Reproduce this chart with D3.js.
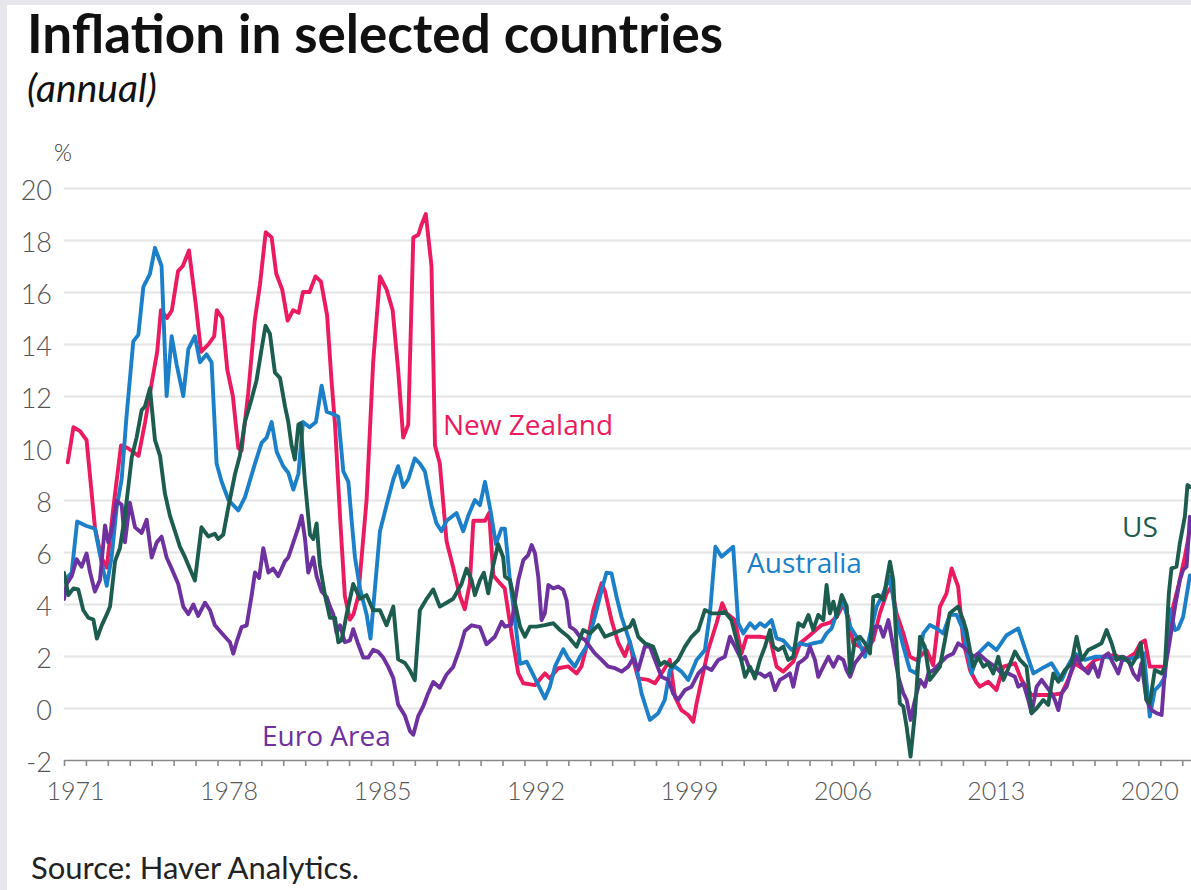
<!DOCTYPE html>
<html>
<head>
<meta charset="utf-8">
<style>
  body { margin: 0; background: #fff; }
  svg { display: block; }
  .grid line { stroke: #e4e4e4; stroke-width: 2; }
  .grid path { display: none; }
  .ylab text { font-family: Lato, sans-serif; font-weight: 300; font-size: 27px; fill: #555; }
  .xlab text { font-family: Lato, sans-serif; font-weight: 300; font-size: 25px; fill: #555; }
  .xaxis path, .xaxis line { stroke: #8a8a8a; stroke-width: 1.6; }
  .series { fill: none; stroke-width: 3.9; stroke-linejoin: round; stroke-linecap: round; }
  .label { font-family: "Open Sans", sans-serif; font-size: 28px; }
</style>
</head>
<body>
<svg width="1191" height="890"></svg>
<script src="https://cdnjs.cloudflare.com/ajax/libs/d3/7.8.5/d3.min.js"></script>
<script>

// values: [year, % annual]
var newZealand = [
  [1971.17, 9.45], [1971.43, 10.8], [1971.73, 10.65], [1972.03, 10.3], [1972.41, 6.95], [1972.7, 5.8],
  [1972.95, 5.4], [1973.25, 7.7], [1973.6, 10.1], [1973.9, 10.0], [1974.4, 9.7], [1974.7, 11.0],
  [1975.0, 12.5], [1975.25, 13.7], [1975.42, 15.3], [1975.7, 15.0], [1975.92, 15.3], [1976.2, 16.8],
  [1976.42, 17.0], [1976.7, 17.6], [1977.0, 15.6], [1977.25, 13.7], [1977.6, 14.0], [1977.85, 14.3],
  [1977.97, 15.3], [1978.22, 15.0], [1978.45, 13.0], [1978.7, 12.0], [1978.95, 10.0], [1979.1, 9.9],
  [1979.4, 12.1], [1979.7, 14.9], [1979.94, 16.3], [1980.2, 18.3], [1980.47, 18.1], [1980.68, 16.7],
  [1980.95, 16.1], [1981.2, 14.9], [1981.45, 15.3], [1981.7, 15.2], [1981.9, 16.0], [1982.2, 16.0],
  [1982.47, 16.6], [1982.72, 16.4], [1983.0, 15.1], [1983.2, 12.6], [1983.36, 10.9], [1983.6, 7.2],
  [1983.81, 4.3], [1984.04, 3.4], [1984.2, 3.6], [1984.42, 4.3], [1984.8, 8.0], [1985.1, 13.3],
  [1985.41, 16.6], [1985.71, 16.1], [1985.99, 15.3], [1986.24, 13.0], [1986.47, 10.4], [1986.7, 10.9],
  [1986.93, 18.1], [1987.16, 18.2], [1987.31, 18.6], [1987.5, 19.0], [1987.76, 17.0], [1987.92, 10.1],
  [1988.14, 9.4], [1988.45, 6.4], [1988.75, 5.4], [1989.06, 4.3], [1989.28, 3.8], [1989.51, 4.8],
  [1989.67, 7.2], [1989.97, 7.2], [1990.2, 7.2], [1990.39, 7.5], [1990.58, 5.1], [1990.88, 4.8],
  [1991.1, 4.6], [1991.41, 2.87], [1991.72, 1.33], [1991.95, 0.95], [1992.48, 0.88], [1992.93, 1.33],
  [1993.16, 1.14], [1993.54, 1.53], [1994.0, 1.6], [1994.38, 1.33], [1994.6, 1.6], [1994.83, 2.36],
  [1995.14, 3.77], [1995.52, 4.8], [1995.67, 4.5], [1995.97, 3.38], [1996.28, 2.5], [1996.58, 2.0],
  [1996.81, 2.55], [1996.96, 1.85], [1997.19, 1.14], [1997.65, 1.08], [1997.95, 0.95], [1998.25, 1.33],
  [1998.63, 1.85], [1998.86, 0.44], [1999.16, -0.08], [1999.47, -0.27], [1999.7, -0.53], [1999.85, 0.18],
  [2000.08, 1.08], [2000.38, 2.23], [2000.76, 3.26], [2001.02, 4.03], [2001.22, 3.64], [2001.6, 3.38],
  [2001.9, 2.1], [2002.13, 2.74], [2002.74, 2.74], [2003.2, 2.68], [2003.5, 1.59], [2003.8, 1.4],
  [2004.26, 1.78], [2004.57, 2.49], [2005.02, 2.8], [2005.55, 3.19], [2005.93, 3.28], [2006.24, 3.5],
  [2006.54, 4.0], [2006.77, 3.5], [2007.0, 2.49], [2007.3, 2.36], [2007.6, 2.23], [2007.9, 2.6],
  [2008.21, 3.64], [2008.52, 4.41], [2008.74, 4.67], [2008.97, 3.64], [2009.28, 2.87], [2009.58, 1.97],
  [2009.88, 1.85], [2010.34, 2.23], [2010.64, 1.65], [2010.95, 3.9], [2011.25, 4.41], [2011.48, 5.37],
  [2011.78, 4.67], [2012.01, 2.6], [2012.32, 1.46], [2012.6, 1.0], [2012.77, 0.82], [2013.15, 1.01],
  [2013.53, 0.69], [2013.84, 1.59], [2014.37, 1.72], [2014.67, 1.08], [2015.13, 0.5], [2015.59, 0.5],
  [2016.04, 0.5], [2016.5, 0.56], [2016.8, 1.08], [2017.1, 1.72], [2017.56, 1.46], [2018.02, 1.85],
  [2018.47, 1.97], [2018.93, 2.04], [2019.38, 1.85], [2019.84, 2.1], [2020.1, 2.5], [2020.3, 2.6],
  [2020.52, 1.59], [2020.9, 1.59], [2021.21, 1.59], [2021.51, 3.64], [2021.82, 4.67], [2022.12, 5.82],
  [2022.35, 6.85]
];

var australia = [
  [1971.0, 4.9], [1971.35, 5.2], [1971.6, 7.17], [1972.03, 7.0], [1972.41, 6.9], [1972.64, 5.9],
  [1972.95, 4.7], [1973.17, 5.8], [1973.4, 7.7], [1973.63, 8.8], [1973.86, 11.3], [1974.0, 12.6],
  [1974.16, 14.1], [1974.39, 14.35], [1974.62, 16.2], [1974.92, 16.7], [1975.15, 17.7], [1975.45, 17.0],
  [1975.68, 12.0], [1975.91, 14.3], [1976.14, 13.2], [1976.44, 12.0], [1976.67, 13.8], [1976.97, 14.3],
  [1977.2, 13.3], [1977.5, 13.6], [1977.73, 13.3], [1977.96, 9.4], [1978.19, 8.7], [1978.5, 8.0],
  [1978.95, 7.6], [1979.25, 8.1], [1979.71, 9.4], [1980.01, 10.2], [1980.24, 10.4], [1980.47, 11.0],
  [1980.7, 9.85], [1981.0, 9.3], [1981.23, 9.05], [1981.46, 8.4], [1981.69, 9.0], [1981.9, 11.0],
  [1982.2, 10.8], [1982.49, 11.0], [1982.75, 12.4], [1982.98, 11.4], [1983.28, 11.3], [1983.51, 11.2],
  [1983.74, 9.1], [1983.97, 8.7], [1984.12, 7.2], [1984.27, 5.8], [1984.5, 4.6], [1984.8, 3.6],
  [1984.98, 2.67], [1985.18, 4.6], [1985.41, 6.8], [1985.71, 7.8], [1986.02, 8.8], [1986.24, 9.3],
  [1986.47, 8.5], [1986.7, 8.8], [1987.0, 9.6], [1987.23, 9.4], [1987.46, 9.1], [1987.76, 7.8],
  [1987.99, 7.1], [1988.22, 6.8], [1988.45, 7.2], [1988.9, 7.5], [1989.21, 6.8], [1989.44, 7.4],
  [1989.74, 8.0], [1989.97, 7.8], [1990.2, 8.7], [1990.45, 7.6], [1990.7, 6.3], [1990.95, 6.9],
  [1991.11, 6.9], [1991.34, 4.9], [1991.57, 3.4], [1991.8, 1.7], [1992.1, 1.78], [1992.48, 1.14],
  [1992.93, 0.37], [1993.16, 0.82], [1993.39, 1.59], [1993.77, 2.26], [1994.0, 1.9], [1994.3, 1.59],
  [1994.53, 1.97], [1994.83, 2.36], [1995.21, 3.5], [1995.52, 4.54], [1995.74, 5.2], [1995.97, 5.18],
  [1996.2, 4.28], [1996.43, 3.5], [1996.73, 2.74], [1997.04, 1.85], [1997.34, 0.56], [1997.72, -0.46],
  [1998.1, -0.2], [1998.4, 0.31], [1998.63, 1.46], [1998.86, 1.59], [1999.16, 1.4], [1999.47, 1.08],
  [1999.85, 1.85], [2000.23, 2.23], [2000.46, 3.64], [2000.71, 6.2], [2000.99, 5.82], [2001.52, 6.2],
  [2001.75, 3.26], [2001.98, 2.87], [2002.29, 3.26], [2002.51, 3.06], [2002.74, 3.26], [2002.97, 3.13],
  [2003.27, 3.38], [2003.5, 2.68], [2003.8, 2.6], [2004.19, 2.23], [2004.57, 2.49], [2004.87, 2.42],
  [2005.17, 2.49], [2005.55, 2.55], [2005.78, 2.87], [2006.01, 3.06], [2006.24, 3.64], [2006.54, 4.09],
  [2006.85, 3.13], [2007.15, 2.74], [2007.53, 1.97], [2007.83, 3.06], [2008.06, 3.9], [2008.37, 4.41],
  [2008.67, 5.05], [2008.97, 3.38], [2009.28, 2.36], [2009.58, 1.46], [2009.88, 1.33], [2010.19, 2.87],
  [2010.49, 3.19], [2010.8, 3.06], [2011.1, 2.87], [2011.4, 3.58], [2011.71, 3.58], [2012.01, 3.0],
  [2012.2, 2.2], [2012.39, 1.33], [2012.7, 2.1], [2013.15, 2.49], [2013.53, 2.23], [2013.99, 2.8],
  [2014.52, 3.06], [2014.9, 2.1], [2015.21, 1.33], [2015.74, 1.59], [2016.04, 1.72], [2016.5, 1.08],
  [2016.8, 1.65], [2017.1, 2.1], [2017.56, 1.85], [2018.02, 1.97], [2018.47, 1.97], [2018.93, 1.91],
  [2019.38, 1.85], [2019.99, 1.97], [2020.25, 2.1], [2020.52, -0.33], [2020.75, 0.69], [2021.0, 0.9],
  [2021.21, 1.2], [2021.44, 3.8], [2021.67, 3.0], [2021.82, 3.06], [2022.04, 3.5], [2022.35, 5.1]
];

var us = [
  [1971.0, 5.2], [1971.2, 4.34], [1971.43, 4.6], [1971.65, 4.56], [1971.88, 3.76], [1972.11, 3.47],
  [1972.34, 3.4], [1972.5, 2.67], [1972.72, 3.18], [1972.95, 3.6], [1973.1, 3.9], [1973.33, 5.65],
  [1973.55, 6.15], [1973.78, 7.4], [1974.09, 9.64], [1974.31, 10.4], [1974.54, 11.45], [1974.69, 11.6],
  [1974.92, 12.3], [1975.15, 10.3], [1975.38, 9.7], [1975.6, 8.26], [1975.83, 7.4], [1976.06, 6.8],
  [1976.29, 6.2], [1976.52, 5.8], [1976.74, 5.36], [1976.97, 4.9], [1977.27, 6.95], [1977.58, 6.6],
  [1977.88, 6.7], [1978.03, 6.5], [1978.26, 6.66], [1978.49, 7.7], [1978.8, 9.0], [1979.02, 9.7],
  [1979.25, 11.0], [1979.56, 11.9], [1979.78, 12.6], [1980.01, 13.8], [1980.19, 14.7], [1980.39, 14.4],
  [1980.62, 12.9], [1980.85, 12.7], [1981.08, 11.6], [1981.23, 11.0], [1981.38, 10.1], [1981.53, 9.56],
  [1981.69, 10.9], [1981.79, 10.95], [1981.99, 8.7], [1982.22, 6.66], [1982.37, 6.5], [1982.52, 7.1],
  [1982.67, 5.5], [1982.9, 4.34], [1983.13, 3.47], [1983.36, 3.47], [1983.51, 2.53], [1983.66, 2.6],
  [1983.89, 3.6], [1984.19, 4.77], [1984.5, 4.2], [1984.8, 4.34], [1985.1, 3.76], [1985.41, 3.76],
  [1985.71, 3.18], [1986.02, 3.9], [1986.24, 1.87], [1986.55, 1.73], [1986.78, 1.44], [1987.0, 1.07],
  [1987.23, 3.76], [1987.54, 4.2], [1987.84, 4.56], [1988.14, 3.9], [1988.45, 4.05], [1988.75, 4.2],
  [1989.13, 4.77], [1989.36, 5.36], [1989.59, 4.92], [1989.74, 4.34], [1989.97, 4.92], [1990.15, 5.2],
  [1990.35, 4.41], [1990.58, 5.5], [1990.8, 6.3], [1991.03, 5.8], [1991.11, 5.05], [1991.34, 4.92],
  [1991.57, 4.03], [1991.8, 3.13], [1992.02, 2.74], [1992.25, 3.13], [1992.55, 3.13], [1992.93, 3.19],
  [1993.31, 3.26], [1993.62, 3.0], [1994.0, 2.74], [1994.38, 2.36], [1994.68, 3.0], [1994.99, 2.87],
  [1995.37, 3.19], [1995.67, 2.74], [1996.05, 2.87], [1996.43, 3.0], [1996.81, 3.13], [1996.96, 3.38],
  [1997.19, 2.74], [1997.49, 2.49], [1997.87, 2.36], [1998.18, 1.65], [1998.4, 1.78], [1998.71, 1.59],
  [1999.01, 1.85], [1999.32, 2.36], [1999.62, 2.74], [1999.93, 3.0], [2000.23, 3.77], [2000.53, 3.64],
  [2000.84, 3.64], [2001.14, 3.7], [2001.44, 3.38], [2001.75, 2.36], [2002.06, 1.2], [2002.29, 1.59],
  [2002.51, 1.14], [2002.74, 1.85], [2002.97, 2.36], [2003.2, 3.0], [2003.35, 2.36], [2003.58, 2.23],
  [2003.81, 2.36], [2004.03, 1.85], [2004.26, 1.97], [2004.49, 3.26], [2004.72, 3.13], [2004.95, 3.58],
  [2005.17, 3.0], [2005.4, 3.58], [2005.63, 3.38], [2005.78, 4.73], [2005.93, 3.64], [2006.09, 4.09],
  [2006.24, 3.51], [2006.47, 4.35], [2006.7, 3.9], [2006.85, 1.33], [2007.07, 2.62], [2007.3, 2.74],
  [2007.53, 2.49], [2007.76, 2.1], [2007.91, 4.28], [2008.14, 4.35], [2008.37, 4.15], [2008.52, 4.92],
  [2008.67, 5.63], [2008.82, 4.92], [2008.97, 2.36], [2009.12, 0.18], [2009.28, 0.05], [2009.43, -0.72],
  [2009.61, -1.87], [2009.81, -0.2], [2010.04, 2.74], [2010.26, 2.36], [2010.49, 1.08], [2010.72, 1.33],
  [2010.95, 1.59], [2011.18, 2.62], [2011.4, 3.64], [2011.78, 3.9], [2012.01, 3.38], [2012.15, 3.0],
  [2012.32, 2.23], [2012.47, 1.59], [2012.7, 1.97], [2012.93, 1.59], [2013.15, 1.72], [2013.38, 1.33],
  [2013.61, 1.97], [2013.84, 1.08], [2014.07, 1.53], [2014.37, 2.17], [2014.6, 1.85], [2014.9, 1.59],
  [2015.13, -0.2], [2015.36, -0.01], [2015.66, 0.31], [2015.89, 0.12], [2016.12, 1.33], [2016.35, 1.01],
  [2016.65, 1.46], [2016.95, 1.72], [2017.18, 2.74], [2017.41, 1.85], [2017.71, 2.23], [2018.02, 2.36],
  [2018.32, 2.49], [2018.55, 3.0], [2018.78, 2.49], [2019.0, 1.85], [2019.23, 1.97], [2019.46, 1.85],
  [2019.69, 1.65], [2019.92, 1.97], [2020.11, 2.49], [2020.37, 0.31], [2020.52, 0.18], [2020.75, 1.46],
  [2021.06, 1.33], [2021.21, 1.59], [2021.39, 4.41], [2021.51, 5.37], [2021.74, 5.44], [2021.89, 6.33],
  [2022.12, 7.36], [2022.24, 8.58], [2022.35, 8.5]
];

var euroArea = [
  [1971.0, 4.19], [1971.12, 4.77], [1971.35, 5.07], [1971.58, 5.72], [1971.8, 5.43], [1972.03, 5.94],
  [1972.19, 5.21], [1972.41, 4.48], [1972.64, 4.92], [1972.87, 7.02], [1973.02, 6.37], [1973.17, 6.8],
  [1973.4, 7.97], [1973.63, 7.82], [1973.78, 6.37], [1974.0, 7.9], [1974.24, 6.95], [1974.54, 6.73],
  [1974.77, 7.24], [1975.0, 5.79], [1975.23, 6.37], [1975.45, 6.59], [1975.68, 5.79], [1975.91, 5.36],
  [1976.21, 4.77], [1976.44, 3.9], [1976.67, 3.61], [1976.9, 3.98], [1977.12, 3.54], [1977.43, 4.05],
  [1977.66, 3.76], [1977.88, 3.18], [1978.11, 2.96], [1978.34, 2.74], [1978.57, 2.53], [1978.72, 2.09],
  [1978.87, 2.53], [1979.1, 3.11], [1979.33, 3.18], [1979.56, 4.34], [1979.71, 5.21], [1979.9, 5.0],
  [1980.09, 6.15], [1980.32, 5.21], [1980.54, 5.36], [1980.77, 5.07], [1981.08, 5.65], [1981.23, 5.79],
  [1981.46, 6.37], [1981.69, 6.95], [1981.84, 7.39], [1981.99, 6.52], [1982.14, 5.21], [1982.37, 5.79],
  [1982.52, 5.07], [1982.75, 4.48], [1982.98, 4.27], [1983.13, 3.9], [1983.28, 3.61], [1983.43, 2.89],
  [1983.59, 3.18], [1983.81, 2.53], [1984.04, 2.6], [1984.19, 3.03], [1984.42, 2.45], [1984.65, 1.94],
  [1984.88, 1.94], [1985.1, 2.24], [1985.33, 2.16], [1985.56, 1.94], [1985.79, 1.58], [1986.02, 1.15],
  [1986.24, 0.13], [1986.55, -0.3], [1986.78, -0.89], [1986.93, -1.03], [1987.16, -0.3], [1987.38, 0.06],
  [1987.61, 0.57], [1987.84, 1.0], [1988.14, 0.78], [1988.45, 1.29], [1988.75, 1.58], [1989.06, 2.31],
  [1989.28, 2.96], [1989.59, 3.18], [1989.97, 3.11], [1990.27, 2.45], [1990.65, 2.74], [1990.96, 3.32],
  [1991.11, 3.13], [1991.4, 3.2], [1991.72, 4.92], [1991.95, 5.69], [1992.17, 5.88], [1992.33, 6.27],
  [1992.48, 5.95], [1992.63, 5.05], [1992.78, 3.38], [1992.93, 3.64], [1993.09, 4.73], [1993.31, 4.6],
  [1993.54, 4.67], [1993.77, 4.54], [1993.92, 4.15], [1994.07, 3.13], [1994.3, 3.0], [1994.53, 2.74],
  [1994.76, 2.62], [1994.98, 2.36], [1995.21, 2.1], [1995.52, 1.85], [1995.82, 1.59], [1996.13, 1.53],
  [1996.43, 1.4], [1996.73, 1.59], [1996.96, 1.91], [1997.19, 1.46], [1997.49, 2.36], [1997.72, 2.36],
  [1997.95, 1.85], [1998.25, 1.2], [1998.56, 1.08], [1998.78, 0.56], [1999.01, 0.31], [1999.32, 0.69],
  [1999.62, 0.82], [1999.93, 1.33], [2000.23, 1.59], [2000.53, 1.46], [2000.84, 1.85], [2001.14, 1.97],
  [2001.37, 2.74], [2001.6, 2.36], [2001.9, 1.85], [2002.06, 1.97], [2002.29, 1.46], [2002.51, 1.33],
  [2002.74, 1.33], [2002.97, 1.2], [2003.2, 1.33], [2003.43, 0.69], [2003.65, 1.08], [2003.88, 1.2],
  [2004.11, 1.33], [2004.26, 0.82], [2004.49, 1.72], [2004.72, 1.85], [2004.87, 1.97], [2005.02, 2.36],
  [2005.25, 1.85], [2005.4, 1.2], [2005.63, 1.59], [2005.86, 1.97], [2006.09, 1.59], [2006.31, 1.97],
  [2006.54, 1.85], [2006.69, 1.46], [2006.85, 1.2], [2007.07, 1.72], [2007.3, 1.97], [2007.53, 2.23],
  [2007.76, 2.36], [2007.98, 3.13], [2008.21, 3.13], [2008.37, 2.74], [2008.6, 3.38], [2008.82, 2.36],
  [2009.05, 1.2], [2009.28, 0.56], [2009.43, 0.31], [2009.61, -0.46], [2009.81, 0.31], [2010.04, 1.08],
  [2010.26, 0.82], [2010.42, 1.33], [2010.65, 1.46], [2010.95, 1.72], [2011.25, 1.97], [2011.56, 2.1],
  [2011.78, 2.49], [2012.01, 2.36], [2012.32, 2.1], [2012.5, 1.97], [2012.7, 2.1], [2013.1, 1.8],
  [2013.46, 1.59], [2013.76, 1.33], [2014.07, 1.33], [2014.37, 1.2], [2014.52, 0.82], [2014.75, 0.95],
  [2014.98, 0.31], [2015.13, -0.2], [2015.36, 0.82], [2015.59, 1.08], [2015.81, 0.82], [2016.04, 0.56],
  [2016.19, 0.31], [2016.35, -0.08], [2016.5, 0.56], [2016.73, 0.82], [2016.95, 1.46], [2017.18, 1.97],
  [2017.41, 1.59], [2017.71, 1.33], [2017.94, 1.72], [2018.17, 1.2], [2018.4, 1.97], [2018.63, 2.1],
  [2018.85, 1.72], [2019.08, 1.33], [2019.31, 1.97], [2019.54, 1.85], [2019.77, 1.33], [2019.99, 1.08],
  [2020.14, 1.72], [2020.37, 0.31], [2020.6, -0.08], [2020.83, -0.2], [2021.06, -0.27], [2021.21, 1.46],
  [2021.44, 2.62], [2021.67, 3.9], [2021.89, 4.92], [2022.04, 5.31], [2022.2, 5.44], [2022.35, 7.36]
];

var yTicks = [-2, 0, 2, 4, 6, 8, 10, 12, 14, 16, 18, 20];
var yearLabels = [1971, 1978, 1985, 1992, 1999, 2006, 2013, 2020];
var firstYear = 1971, lastYear = 2022.4;

var svg = d3.select("svg"),
    width = +svg.attr("width"),
    height = +svg.attr("height");

var plotLeft = 64, plotRight = 1191, plotTop = 188, plotBottom = 760;

var x = d3.scaleLinear().domain([firstYear, lastYear]).range([plotLeft, plotRight]);
var y = d3.scaleLinear().domain([-2, 20]).range([plotBottom, plotTop]);

// faint screenshot frame on the left and top
svg.append("rect").attr("x", 0).attr("y", 0).attr("width", 7).attr("height", height).attr("fill", "#e6e6ec");
svg.append("rect").attr("x", 0).attr("y", 0).attr("width", width).attr("height", 5).attr("fill", "#e6e6ec");

svg.append("text")
    .attr("x", 27).attr("y", 53)
    .style("font-family", "Lato, sans-serif").style("font-weight", 700)
    .style("font-size", "53px").style("fill", "#111")
    .text("Inflation in selected countries");

svg.append("text")
    .attr("x", 27).attr("y", 102)
    .style("font-family", "Lato, sans-serif").style("font-style", "italic")
    .style("font-size", "39px").style("fill", "#111")
    .text("(annual)");

svg.append("text")
    .attr("x", 54).attr("y", 161)
    .style("font-family", "Lato, sans-serif").style("font-weight", 300)
    .style("font-size", "23px").style("fill", "#333")
    .text("%");

// gridlines
svg.append("g")
    .attr("class", "grid")
    .attr("transform", "translate(" + plotLeft + ",0)")
    .call(d3.axisLeft(y).tickValues(yTicks.filter(function(d) { return d > -2; }))
      .tickSize(-(plotRight - plotLeft)).tickFormat(""));

// y labels (plain hyphen for the negative tick, as in the original)
var ylab = svg.append("g")
    .attr("class", "ylab")
    .attr("transform", "translate(" + (plotLeft - 12) + ",0)")
    .call(d3.axisLeft(y).tickValues(yTicks).tickSize(0).tickPadding(0)
      .tickFormat(function(d) { return String(d); }));
ylab.select(".domain").remove();
ylab.selectAll("text").attr("dy", "0.42em");

// x axis: a tick every year, labels centred in their year
svg.append("g")
    .attr("class", "xaxis")
    .attr("transform", "translate(0," + plotBottom + ")")
    .call(d3.axisBottom(x).tickValues(d3.range(1971, 2023)).tickSize(6).tickSizeOuter(0).tickFormat(""));

var xlab = svg.append("g")
    .attr("class", "xlab")
    .attr("transform", "translate(0," + plotBottom + ")")
    .call(d3.axisBottom(x).tickValues(yearLabels.map(function(d) { return d + 0.5; }))
      .tickSize(0).tickPadding(22).tickFormat(function(d) { return Math.floor(d); }));
xlab.select(".domain").remove();

svg.append("clipPath").attr("id", "plot")
  .append("rect").attr("x", plotLeft).attr("y", 0).attr("width", plotRight - plotLeft).attr("height", height);

var line = d3.line()
    .x(function(d) { return x(d[0]); })
    .y(function(d) { return y(d[1]); });

var series = [
  { name: "New Zealand", data: newZealand, color: "#ec1a5e" },
  { name: "Australia", data: australia, color: "#1b80c9" },
  { name: "Euro Area", data: euroArea, color: "#6e31a0" },
  { name: "US", data: us, color: "#1c5d4f" }
];

svg.append("g")
    .attr("clip-path", "url(#plot)")
  .selectAll("path")
  .data(series)
  .enter().append("path")
    .attr("class", "series")
    .attr("stroke", function(d) { return d.color; })
    .attr("d", function(d) { return line(d.data); });

// direct labels
var labels = [
  { text: "New Zealand", x: 443, y: 435, color: "#ec1a5e" },
  { text: "Australia", x: 747, y: 573, color: "#1b80c9" },
  { text: "US", x: 1122, y: 537, color: "#1c5d4f" },
  { text: "Euro Area", x: 262, y: 746, color: "#6e31a0" }
];
svg.selectAll(".label")
  .data(labels)
  .enter().append("text")
    .attr("class", "label")
    .attr("x", function(d) { return d.x; })
    .attr("y", function(d) { return d.y; })
    .style("fill", function(d) { return d.color; })
    .text(function(d) { return d.text; });

svg.append("text")
    .attr("x", 31).attr("y", 879)
    .style("font-family", "Lato, sans-serif")
    .style("font-size", "31px").style("fill", "#222")
    .text("Source: Haver Analytics.");

</script>
</body>
</html>
